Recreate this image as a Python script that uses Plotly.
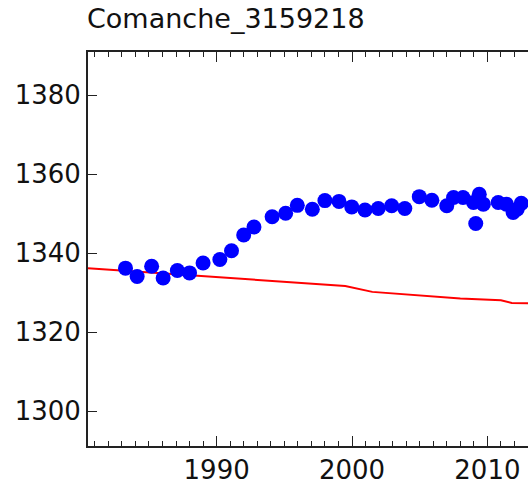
import plotly.graph_objects as go

title_text = "Comanche_3159218"

obs_years = [1983.27, 1984.13, 1985.2, 1986.05, 1987.1, 1988.0, 1989.0, 1990.24,
             1991.1, 1992.0, 1992.76, 1994.1, 1995.1, 1995.96, 1997.07, 1998.0,
             1999.04, 1999.98, 2000.96, 2001.94, 2002.93, 2003.9, 2004.97, 2005.9,
             2007.0, 2007.5, 2008.2, 2008.97, 2009.14, 2009.4, 2009.7, 2010.8,
             2011.4, 2011.9, 2012.2, 2012.5]
obs_values = [1336.2, 1334.1, 1336.7, 1333.7, 1335.6, 1335.0, 1337.5, 1338.4,
              1340.6, 1344.6, 1346.6, 1349.2, 1350.1, 1352.1, 1351.1, 1353.3,
              1353.1, 1351.7, 1350.9, 1351.3, 1352.0, 1351.3, 1354.3, 1353.4,
              1352.0, 1354.1, 1354.1, 1352.8, 1347.5, 1354.9, 1352.4, 1352.8,
              1352.4, 1350.3, 1351.1, 1352.6]

trend_years = [1980.5, 1985, 1990, 1995, 1999.5, 2001.5, 2005, 2008, 2011, 2011.8, 2014]
trend_values = [1336.2, 1335.1, 1333.9, 1332.7, 1331.7, 1330.2, 1329.3, 1328.5, 1328.1, 1327.4, 1327.3]

x_tickvals = [1990, 2000, 2010]
y_tickvals = [1300, 1320, 1340, 1360, 1380]

fig = go.Figure()
fig.add_trace(go.Scatter(x=trend_years, y=trend_values, mode="lines",
                         line=dict(color="#ff0000", width=2), showlegend=False))
fig.add_trace(go.Scatter(x=obs_years, y=obs_values, mode="markers",
                         marker=dict(color="#0000ff", size=15, line=dict(width=0)),
                         showlegend=False))

font_family = "DejaVu Sans"
fig.update_layout(
    width=528, height=485,
    margin=dict(l=88, r=0, t=52, b=37),
    paper_bgcolor="white", plot_bgcolor="white",
    font=dict(family=font_family, color="#111111"),
    title=dict(text=title_text, x=87/528, xanchor="left", xref="container",
               y=1 - 9/485, yanchor="top", yref="container",
               font=dict(size=27, family=font_family, color="#111111")),
    xaxis=dict(range=[1980.5, 2013.0], tickvals=x_tickvals, ticks="inside",
               ticklen=10, tickwidth=1, tickcolor="#222222",
               showline=True, linecolor="#222222", linewidth=2,
               mirror="allticks", showgrid=False, zeroline=False,
               tickfont=dict(size=26, family=font_family, color="#111111"),
               minor=dict(ticks="inside", ticklen=5, dtick=1, tick0=1980,
                          tickcolor="#222222", tickwidth=1, showgrid=False)),
    yaxis=dict(range=[1291.2, 1390.9], tickvals=y_tickvals, ticks="inside",
               ticklen=9, tickwidth=1, tickcolor="#222222",
               showline=True, linecolor="#222222", linewidth=2,
               mirror=False, showgrid=False, zeroline=False,
               tickfont=dict(size=26, family=font_family, color="#111111")),
)

fig.write_html("out.html")
